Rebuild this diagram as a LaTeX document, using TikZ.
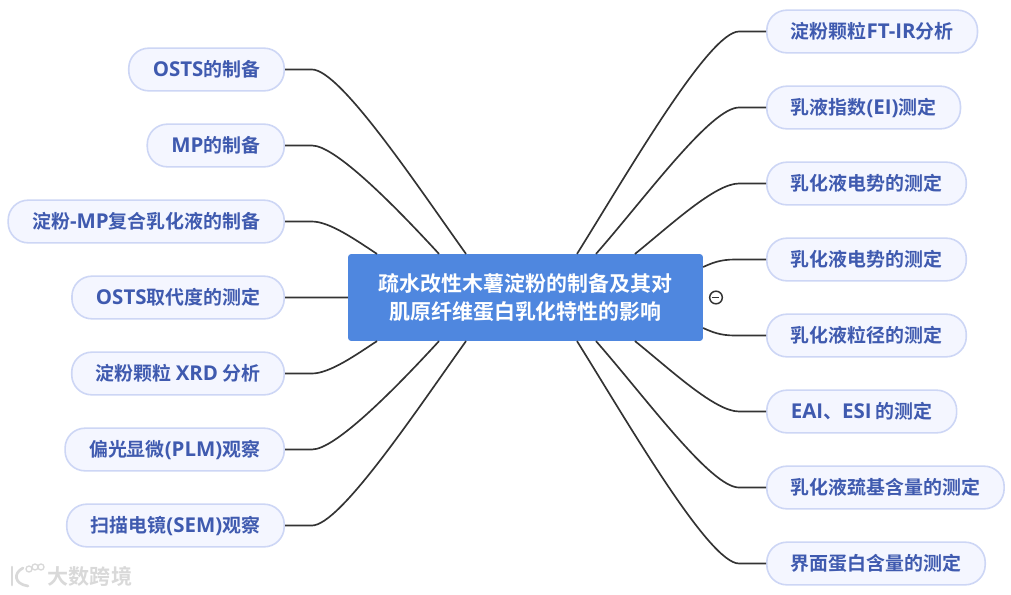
\documentclass[tikz,border=0pt]{standalone}
\usepackage{fontspec}
\setmainfont{Noto Sans CJK SC}[BoldFont={Noto Sans CJK SC Bold}]
\newfontfamily\latf{Open Sans}[Scale=1.08]
\newcommand{\lat}[1]{{\latf\bfseries #1}}
\usepackage{tikz}
\usetikzlibrary{positioning,calc}
\definecolor{rootblue}{HTML}{4F87DF}
\definecolor{leaffill}{HTML}{F4F6FF}
\definecolor{leafline}{HTML}{CDD6F5}
\definecolor{leaftext}{HTML}{3F5AAF}
\definecolor{linkgray}{HTML}{333333}
\tikzset{
  leaf/.style={draw=leafline, line width=1.2pt, fill=leaffill, rounded corners=15pt, minimum height=32pt,
    inner xsep=18pt, inner ysep=0pt, text=leaftext, font=\fontsize{14.2}{17}\selectfont\bfseries},
  link/.style={draw=linkgray, line width=1.25pt},
}
\begin{document}
\begin{tikzpicture}[x=0.75pt, y=-0.75pt, node distance=23.8pt,
  rootbox/.style={fill=rootblue, rounded corners=2pt, minimum width=266pt, minimum height=65pt, inner sep=0pt,
    align=center, text=white, font=\fontsize{15.7}{21.5}\selectfont\bfseries},
  fold/.style={draw=black!80, circle, line width=1.1pt, minimum size=9.5pt, inner sep=0pt},
  brandmark/.style={text=black!15, font=\fontsize{15.8}{18}\selectfont\bfseries},
  brandring/.style={draw=black!15, circle, line width=1pt, minimum size=4.5pt, inner sep=0pt}]
  \useasboundingbox (0,0) rectangle (1011,594);
  \node[rootbox] (root) at (525.5,297.5) {\raisebox{-1pt}{疏水改性木薯淀粉的制备及其对}\\\raisebox{-1pt}{肌原纤维蛋白乳化特性的影响}};
  % left side
  \node[leaf, anchor=east] (osts) at (285,69.5) {\lat{OSTS}的制备};
  \node[leaf, below=of osts.south east, anchor=north east] (mp) {\lat{MP}的制备};
  \node[leaf, below=of mp.south east, anchor=north east] (emul) {淀粉\lat{-MP}复合乳化液的制备};
  \node[leaf, below=of emul.south east, anchor=north east] (degree) {\lat{OSTS}取代度的测定};
  \node[leaf, below=of degree.south east, anchor=north east] (xrd) {淀粉颗粒 \lat{XRD} 分析};
  \node[leaf, below=of xrd.south east, anchor=north east] (plm) {偏光显微\lat{(PLM)}观察};
  \node[leaf, below=of plm.south east, anchor=north east] (sem) {扫描电镜\lat{(SEM)}观察};
  % right side
  \node[leaf, anchor=west] (ftir) at (766,31.5) {淀粉颗粒\lat{FT-IR}分析};
  \node[leaf, below=of ftir.south west, anchor=north west] (ei) {乳液指数\lat{(EI)}测定};
  \node[leaf, below=of ei.south west, anchor=north west] (zeta) {乳化液电势的测定};
  \node[leaf, below=of zeta.south west, anchor=north west] (zetb) {乳化液电势的测定};
  \node[leaf, below=of zetb.south west, anchor=north west] (size) {乳化液粒径的测定};
  \node[leaf, below=of size.south west, anchor=north west] (eai) {\lat{EAI}、\lat{ESI} 的测定};
  \node[leaf, below=of eai.south west, anchor=north west] (thiol) {乳化液巯基含量的测定};
  \node[leaf, below=of thiol.south west, anchor=north west] (iface) {界面蛋白含量的测定};
  \node[fold] (minus) at (716,297.5) {};
  \draw[line width=1.1pt, black!80] (minus.west) ++(3,0) -- ++(7,0);
  % left links
  \draw[link] (osts.east) -- ++(27,0) .. controls +(28,0) and +(-50,-70) .. ($(root.north)+(-59.5,0)$);
  \draw[link] (mp.east) -- ++(27,0) .. controls +(23,0) and +(-46,-50) .. ($(root.north)+(-86.5,0)$);
  \draw[link] (emul.east) -- ++(27,0) .. controls +(18,0) and +(-20,-13) .. ($(root.north)+(-148.5,0)$);
  \draw[link] (degree.east) -- (root.west);
  \draw[link] (xrd.east) -- ++(27,0) .. controls +(18,0) and +(-20,13) .. ($(root.south)+(-148.5,0)$);
  \draw[link] (plm.east) -- ++(27,0) .. controls +(23,0) and +(-46,50) .. ($(root.south)+(-86.5,0)$);
  \draw[link] (sem.east) -- ++(27,0) .. controls +(28,0) and +(-50,70) .. ($(root.south)+(-59.5,0)$);
  % right links
  \draw[link] (ftir.west) -- ++(-27,0) .. controls +(-30,0) and +(50,-80) .. ($(root.north)+(51.5,0)$);
  \draw[link] (ei.west) -- ++(-27,0) .. controls +(-28,0) and +(50,-57) .. ($(root.north)+(70.5,0)$);
  \draw[link] (zeta.west) -- ++(-27,0) .. controls +(-24,0) and +(36,-29) .. ($(root.north)+(109.5,0)$);
  \draw[link] (zetb.west) -- ++(-31,0) .. controls +(-15,0) and +(9,-4) .. ($(root.east)+(0,-30.5)$);
  \draw[link] (size.west) -- ++(-31,0) .. controls +(-15,0) and +(9,4) .. ($(root.east)+(0,30.5)$);
  \draw[link] (eai.west) -- ++(-27,0) .. controls +(-24,0) and +(36,29) .. ($(root.south)+(109.5,0)$);
  \draw[link] (thiol.west) -- ++(-27,0) .. controls +(-28,0) and +(50,57) .. ($(root.south)+(70.5,0)$);
  \draw[link] (iface.west) -- ++(-27,0) .. controls +(-30,0) and +(50,80) .. ($(root.south)+(51.5,0)$);
  % watermark
  \node[brandmark] (brand) at (90,576) {大数跨境};
  \draw[line width=2pt, black!15, line cap=round] (12,567) -- (12,585);
  \draw[line width=2pt, black!15, line cap=round] (23,568) .. controls (13,573) and (14,584) .. (28,586);
  \node[brandring] (ringa) at (29,569) {};
  \node[brandring] (ringb) at (35,567) {};
  \node[brandring] (ringc) at (41,567) {};
\end{tikzpicture}
\end{document}
